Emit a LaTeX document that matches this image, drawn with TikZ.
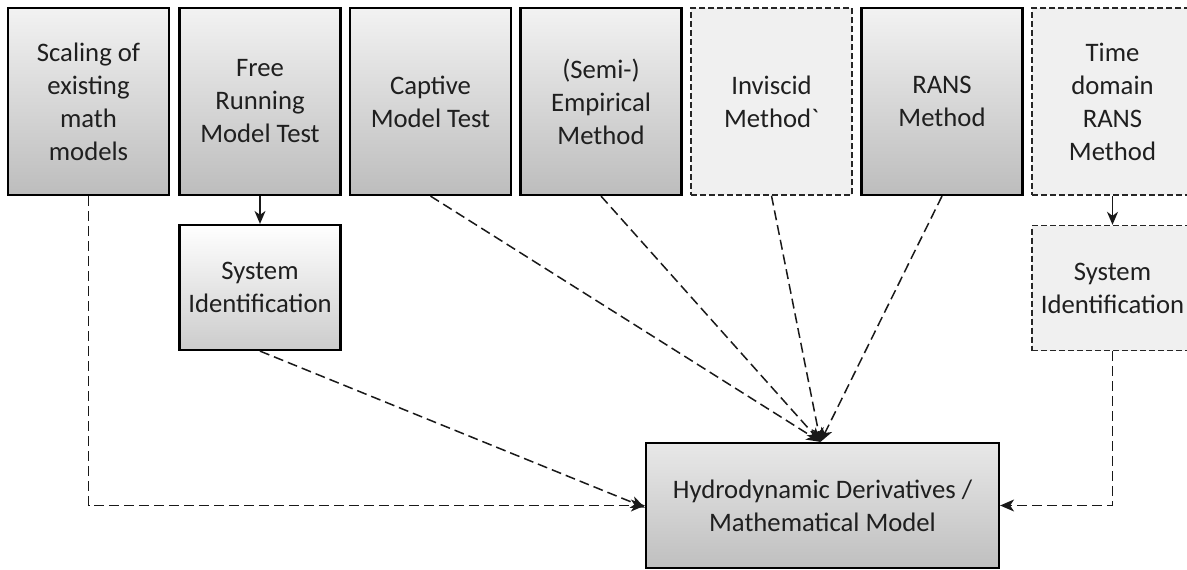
\documentclass[tikz,border=0pt]{standalone}
\usepackage{fontspec}
\setmainfont{Carlito}
\usetikzlibrary{arrows.meta}
\begin{document}
\begin{tikzpicture}[x=1pt,y=-1pt,
  boxbase/.style={rectangle, inner sep=0pt, align=center, font=\fontsize{26.7}{33}\selectfont, text=black!88},
  solidbox/.style={boxbase, draw=black, line width=2.2pt, top color=black!5, bottom color=black!26},
  dashbox/.style={boxbase, draw=black!85, line width=1.4pt, dash pattern=on 6pt off 3pt, fill=black!6},
  topbox/.style={minimum width=161pt, minimum height=187pt},
  sysbox/.style={minimum width=161pt, minimum height=125pt},
  conn/.style={line width=1.5pt, draw=black!90, dash pattern=on 10pt off 5pt, -{Stealth[length=14pt,width=12pt,inset=4pt]}},
  solidconn/.style={line width=1.5pt, draw=black!90, -{Stealth[length=13pt,width=11pt,inset=4pt]}}
]
\useasboundingbox (0,0) rectangle (1187,570);
\fill[white] (0,0) rectangle (1187,570);

\node[solidbox,topbox] (b1) at (88.5,101.5) {Scaling of\\existing\\math\\models};
\node[solidbox,topbox] (b2) at (260,101.5) {Free\\Running\\Model Test};
\node[solidbox,topbox] (b3) at (430.5,101.5) {Captive\\Model Test};
\node[solidbox,topbox] (b4) at (601,101.5) {(Semi-)\\Empirical\\Method};
\node[dashbox,topbox] (b5) at (771.5,101.5) {Inviscid\\Method\textasciigrave};
\node[solidbox,topbox] (b6) at (942,101.5) {RANS\\Method};
\node[dashbox,topbox] (b7) at (1112.5,101.5) {Time\\domain\\RANS\\Method};

\node[solidbox,sysbox,top color=white,bottom color=black!20] (s1) at (260,287.5) {System\\Identification};
\node[dashbox,sysbox] (s2) at (1112.5,288) {System\\Identification};

\node[solidbox,minimum width=353pt,minimum height=125pt,top color=black!9,bottom color=black!25] (hy) at (822.5,505.5) {Hydrodynamic Derivatives /\\Mathematical Model};

\draw[solidconn] (b2.south) -- (s1.north);
\draw[solidconn] (b7.south) -- (s2.north);

\draw[conn] (b1.south) -- (b1.south |- hy.west) -- (hy.west);
\draw[conn] (s1.south) -- ([yshift=-2pt]hy.west);
\draw[conn] (b3.south) -- ([xshift=-2pt]hy.north);
\draw[conn] (b4.south) -- ([xshift=-2pt]hy.north);
\draw[conn] (b5.south) -- ([xshift=-2pt]hy.north);
\draw[conn] (b6.south) -- ([xshift=-2pt]hy.north);
\draw[conn] (s2.south) -- (s2.south |- hy.east) -- (hy.east);
\end{tikzpicture}
\end{document}
